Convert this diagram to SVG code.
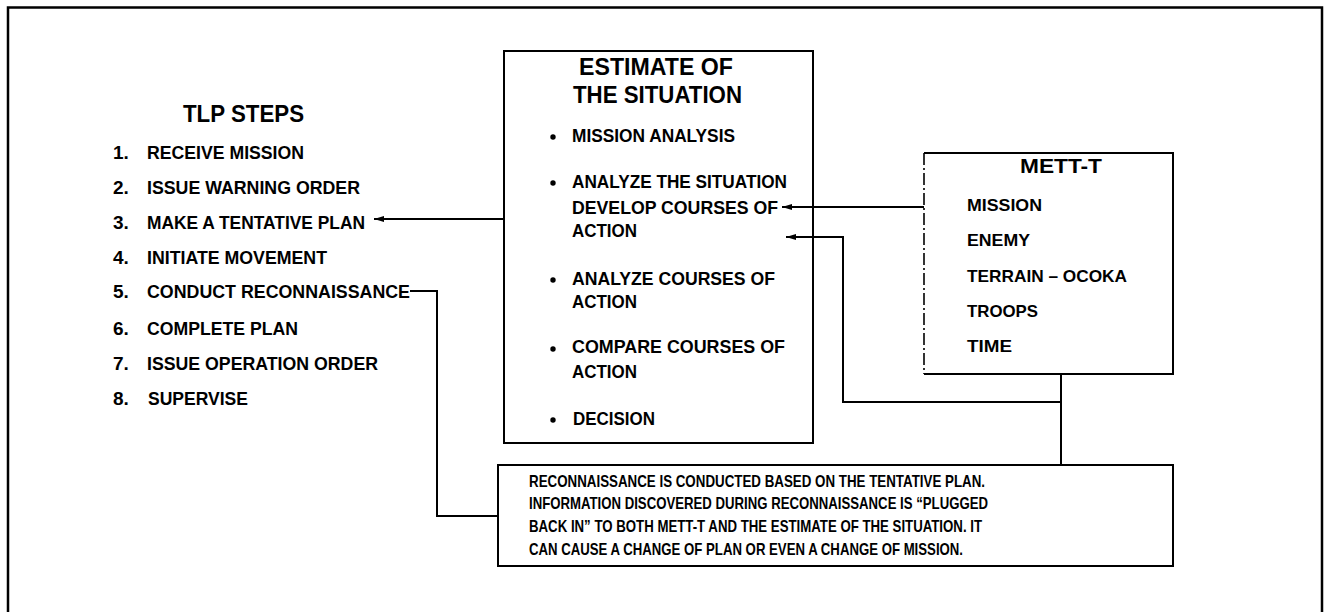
<svg xmlns="http://www.w3.org/2000/svg" width="1324" height="612" viewBox="0 0 1324 612">
<defs>
<marker id="ah" viewBox="0 0 10 8" refX="10" refY="4" markerWidth="10" markerHeight="8" markerUnits="userSpaceOnUse" orient="auto">
<path d="M10,4 L0,1 L0,7 Z" fill="#000"/>
</marker>
<style>
text{font-family:"Liberation Sans",Arial,sans-serif;font-weight:bold;fill:#000}
.t{font-size:19px}
.h{font-size:23px}
.m{font-size:16.5px}
.r{font-size:16.5px}
.box{fill:none;stroke:#000;stroke-width:2}
.ln{fill:none;stroke:#000;stroke-width:2}
</style>
</defs>
<rect width="1324" height="612" fill="#fff"/>
<g id="frame">
<path d="M8,620 L8,7.5 L1322,7.5 L1322,620" fill="none" stroke="#000" stroke-width="2.5"/>
</g>
<g id="tlp">
<text class="h" x="183" y="122" textLength="121" lengthAdjust="spacingAndGlyphs">TLP STEPS</text>
<text class="t" x="113" y="159">1.</text><text class="t" x="147" y="159" textLength="157" lengthAdjust="spacingAndGlyphs">RECEIVE MISSION</text>
<text class="t" x="113" y="194">2.</text><text class="t" x="147" y="194" textLength="213" lengthAdjust="spacingAndGlyphs">ISSUE WARNING ORDER</text>
<text class="t" x="113" y="229">3.</text><text class="t" x="147" y="229" textLength="218" lengthAdjust="spacingAndGlyphs">MAKE A TENTATIVE PLAN</text>
<text class="t" x="113" y="264">4.</text><text class="t" x="147" y="264" textLength="180" lengthAdjust="spacingAndGlyphs">INITIATE MOVEMENT</text>
<text class="t" x="113" y="298">5.</text><text class="t" x="147" y="298" textLength="263" lengthAdjust="spacingAndGlyphs">CONDUCT RECONNAISSANCE</text>
<text class="t" x="113" y="335">6.</text><text class="t" x="147" y="335" textLength="151" lengthAdjust="spacingAndGlyphs">COMPLETE PLAN</text>
<text class="t" x="113" y="370">7.</text><text class="t" x="147" y="370" textLength="231" lengthAdjust="spacingAndGlyphs">ISSUE OPERATION ORDER</text>
<text class="t" x="113" y="405">8.</text><text class="t" x="148" y="405" textLength="100" lengthAdjust="spacingAndGlyphs">SUPERVISE</text>
</g>
<g id="estimate">
<rect class="box" x="504" y="51" width="309" height="392"/>
<text class="h" x="579" y="75" textLength="154" lengthAdjust="spacingAndGlyphs">ESTIMATE OF</text>
<text class="h" x="573" y="103" textLength="169" lengthAdjust="spacingAndGlyphs">THE SITUATION</text>
<g fill="#000">
<circle cx="553" cy="137" r="2.7"/>
<circle cx="553" cy="183" r="2.7"/>
<circle cx="553" cy="280" r="2.7"/>
<circle cx="553" cy="349" r="2.7"/>
<circle cx="553" cy="420" r="2.7"/>
</g>
<text class="t" x="572" y="142" textLength="163" lengthAdjust="spacingAndGlyphs">MISSION ANALYSIS</text>
<text class="t" x="572" y="188" textLength="215" lengthAdjust="spacingAndGlyphs">ANALYZE THE SITUATION</text>
<text class="t" x="572" y="214" textLength="206" lengthAdjust="spacingAndGlyphs">DEVELOP COURSES OF</text>
<text class="t" x="572" y="237" textLength="65" lengthAdjust="spacingAndGlyphs">ACTION</text>
<text class="t" x="572" y="285" textLength="203" lengthAdjust="spacingAndGlyphs">ANALYZE COURSES OF</text>
<text class="t" x="572" y="308" textLength="65" lengthAdjust="spacingAndGlyphs">ACTION</text>
<text class="t" x="572" y="353" textLength="213" lengthAdjust="spacingAndGlyphs">COMPARE COURSES OF</text>
<text class="t" x="572" y="378" textLength="65" lengthAdjust="spacingAndGlyphs">ACTION</text>
<text class="t" x="573" y="425" textLength="82" lengthAdjust="spacingAndGlyphs">DECISION</text>
</g>
<g id="mett-t">
<path class="box" d="M924,153 L1173,153 L1173,374 L924,374"/>
<path d="M924,153 L924,374" fill="none" stroke="#000" stroke-width="1.6" stroke-dasharray="12 3 2 3"/>
<text x="1020" y="173" style="font-size:20px" textLength="82" lengthAdjust="spacingAndGlyphs">METT-T</text>
<text class="m" x="967" y="211" textLength="75" lengthAdjust="spacingAndGlyphs">MISSION</text>
<text class="m" x="967" y="246" textLength="63" lengthAdjust="spacingAndGlyphs">ENEMY</text>
<text class="m" x="967" y="282" textLength="160" lengthAdjust="spacingAndGlyphs">TERRAIN – OCOKA</text>
<text class="m" x="967" y="317" textLength="71" lengthAdjust="spacingAndGlyphs">TROOPS</text>
<text class="m" x="967" y="352" textLength="45" lengthAdjust="spacingAndGlyphs">TIME</text>
</g>
<g id="recon">
<rect class="box" x="498" y="465" width="675" height="101"/>
<text class="r" x="529" y="487" textLength="456" lengthAdjust="spacingAndGlyphs">RECONNAISSANCE IS CONDUCTED BASED ON THE TENTATIVE PLAN.</text>
<text class="r" x="529" y="509" textLength="459" lengthAdjust="spacingAndGlyphs">INFORMATION DISCOVERED DURING RECONNAISSANCE IS “PLUGGED</text>
<text class="r" x="529" y="532" textLength="453" lengthAdjust="spacingAndGlyphs">BACK IN” TO BOTH METT-T AND THE ESTIMATE OF THE SITUATION. IT</text>
<text class="r" x="529" y="555" textLength="434" lengthAdjust="spacingAndGlyphs">CAN CAUSE A CHANGE OF PLAN OR EVEN A CHANGE OF MISSION.</text>
</g>
<g id="connectors">
<path class="ln" d="M504,219 L374,219" marker-end="url(#ah)"/>
<path class="ln" d="M410,291 L437,291 L437,516 L498,516"/>
<path class="ln" d="M924,207 L782,207" marker-end="url(#ah)"/>
<path class="ln" d="M1061,374 L1061,465"/>
<path class="ln" d="M1061,402 L843,402 L843,237 L786,237" marker-end="url(#ah)"/>
</g>
</svg>
